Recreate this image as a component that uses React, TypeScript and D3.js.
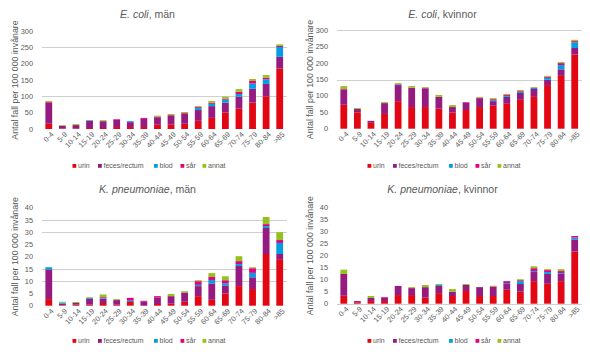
import React from "react";
import * as d3 from "d3";

const categories = ["0-4","5-9","10-14","15-19","20-24","25-29","30-34","35-39","40-44","45-49","50-54","55-59","60-64","65-69","70-74","75-79","80-84",">85"];
const seriesNames = ["urin","feces/rectum","blod","sår","annat"];
const seriesColors = ["#E30613","#951B81","#009FE3","#E6007E","#95C11F"];

// E. coli, män
const ecoliManUrin = [16,1,1,3,3,6,6,6,13,13,16,25,34,50,62,81,100,185];
const ecoliManFeces = [65,9,11,22,21,22,15,25,23,28,31,33,36,31,37,42,38,36];
const ecoliManBlod = [0,0,0,2,0,0,3,0,0,0,0,6,7,9,8,16,14,30];
const ecoliManSar = [2,0,0,0,0,2,0,3,2,2,2,3,3,3,7,8,5,3];
const ecoliManAnnat = [3,2,3,0.5,3,0,0,0,3,3,3,3,6,6,8,6,8,5];

// E. coli, kvinnor
const ecoliKvUrin = [73,50,18,45,84,66,66,61,49,57,66,70,76,88,97,133,161,226];
const ecoliKvFeces = [46,10,6,33,49,58,57,36,17,22,27,14,21,21,24,16,20,20];
const ecoliKvBlod = [0,0,0,0,2,0,0,0,0,0,0,3,3,4,3,6,13,17];
const ecoliKvSar = [2,0,0,0,1,1,2,0,0,2,2,3,3,2,1,3,6,4];
const ecoliKvAnnat = [9,3,0,3,3,5,2,6,6,0,2,3,3,3,2,3,3,4];

// K. pneumoniae, män
const kpnManUrin = [2.7,0.2,0.4,0.4,1.1,0.4,1.6,0,0.7,0.8,1.6,3.9,2.4,5.0,8.0,6.8,21.1,19.0];
const kpnManFeces = [12.1,0.6,0.7,2.4,1.8,1.9,0.3,1.8,2.6,3.1,3.8,4.1,6.7,3.3,8.2,4.8,10.6,2.1];
const kpnManBlod = [0.9,0.5,0,0.4,0.3,0,0.4,0,0,0,0,0.5,1.4,0.9,0.8,1.8,0.8,4.5];
const kpnManSar = [0,0,0,0,0.3,0,0.9,0.2,0.6,0,0,1.5,1.2,1.2,1.2,1.9,0.8,1.2];
const kpnManAnnat = [0,0.3,0.4,0.3,1.1,0.4,0,0,0,0.9,0.5,0.4,1.6,1.6,2.0,0.4,2.9,3.2];

// K. pneumoniae, kvinnor
const kpnKvUrin = [3.3,0.6,1.1,1.1,3.6,3.6,2.5,4.4,3.2,5.3,3.2,3.2,5.8,5.0,9.4,8.3,9.4,21.7];
const kpnKvFeces = [9.1,0.5,1.3,1.4,3.8,2.9,4.4,3.0,1.8,2.5,3.7,3.8,2.4,3.2,3.8,4.1,3.0,5.1];
const kpnKvBlod = [0,0,0,0,0,0,0,0.4,0,0,0,0,0.4,1.2,0.4,0.8,0.4,0.8];
const kpnKvSar = [0,0,0,0.3,0,0,0,0,0,0,0,0.2,0.8,0.4,1.2,0.8,0.8,0.6];
const kpnKvAnnat = [1.8,0,0.8,0,0,0.4,0.9,0.4,1.1,0.4,0,0.3,0,0.4,0.8,0.4,0.8,0];

const ecoliTicks = [0,50,100,150,200,250,300];
const kpnTicks = [0,5,10,15,20,25,30,35,40];

const yTitle = "Antal fall per 100 000 invånare";
const FONT = "'Liberation Sans', Arial, sans-serif";
const TEXT = "#595959";

type PanelProps = {
  ox: number; oy: number;
  species: string; sex: string;
  series: number[][];
  ticks: number[];
  grid: number[];
  yBottom: number; yTop: number;
  baseline?: boolean;
};

function Panel({ ox, oy, species, sex, series, ticks, grid, yBottom, yTop, baseline }: PanelProps) {
  const rows = categories.map((c, i) => {
    const r: any = { cat: c };
    seriesNames.forEach((s, k) => { r[s] = series[k][i]; });
    return r;
  });
  const stacked = d3.stack<any>().keys(seriesNames)(rows);
  const x = d3.scaleBand<string>().domain(categories).range([42, 286.5]).paddingInner(0.5).paddingOuter(0.25);
  const y = d3.scaleLinear().domain([0, ticks[ticks.length - 1]]).range([yBottom, yTop]);
  const legendX = [72.5, 98, 154, 180.5, 202.5];
  return (
    <g transform={`translate(${ox},${oy})`} fontFamily={FONT}>
      <text x={147.5} y={18} textAnchor="middle" fontSize={10.5} fill={TEXT}>
        <tspan fontStyle="italic">{species}</tspan>{`, ${sex}`}
      </text>
      {grid.map((g) => (
        <line key={g} x1={42} x2={287} y1={Math.round(y(g)) + 0.5} y2={Math.round(y(g)) + 0.5} stroke="#cfcfcf" strokeWidth={1} />
      ))}
      {baseline && (
        <line x1={42} x2={287} y1={Math.round(y(0)) + 0.5} y2={Math.round(y(0)) + 0.5} stroke="#cfcfcf" strokeWidth={1} />
      )}
      {ticks.map((t) => (
        <text key={t} x={33} y={y(t)} dy="0.35em" textAnchor="end" fontSize={7.4} fill={TEXT}>{t}</text>
      ))}
      <text transform={`translate(15,${(yBottom + yTop) / 2}) rotate(-90)`} textAnchor="middle" fontSize={8.8} fill={TEXT} dy="0.35em">{yTitle}</text>
      {stacked.map((s, k) => (
        <g key={s.key} fill={seriesColors[k]}>
          {s.map((d, i) => {
            const h = y(d[0]) - y(d[1]);
            if (h <= 0) return null;
            return <rect key={i} x={x(categories[i])!} width={x.bandwidth()} y={y(d[1])} height={h} />;
          })}
        </g>
      ))}
      {categories.map((c) => (
        <text key={c} transform={`translate(${x(c)! + x.bandwidth() / 2 + 3.5},${yBottom + 4}) rotate(-45)`} textAnchor="end" dy="0.35em" fontSize={7.4} fill={TEXT}>{c}</text>
      ))}
      {seriesNames.map((s, k) => (
        <g key={s}>
          <rect x={legendX[k]} y={164} width={3.8} height={3.8} fill={seriesColors[k]} />
          <text x={legendX[k] + 5.5} y={166} dy="0.35em" fontSize={7} fill={TEXT}>{s}</text>
        </g>
      ))}
    </g>
  );
}

export default function App() {
  return (
    <svg width={590} height={355} style={{ position: "absolute", left: 0, top: 0, background: "#fff" }}>
      <rect width={590} height={355} fill="#fff" />
      <Panel ox={0} oy={0} species="E. coli" sex="män"
        series={[ecoliManUrin, ecoliManFeces, ecoliManBlod, ecoliManSar, ecoliManAnnat]}
        ticks={ecoliTicks} grid={[100, 250]} yBottom={129} yTop={31} />
      <Panel ox={295} oy={0} species="E. coli" sex="kvinnor"
        series={[ecoliKvUrin, ecoliKvFeces, ecoliKvBlod, ecoliKvSar, ecoliKvAnnat]}
        ticks={ecoliTicks} grid={[150, 300]} yBottom={128.7} yTop={30.3} />
      <Panel ox={0} oy={175} species="K. pneumoniae" sex="män"
        series={[kpnManUrin, kpnManFeces, kpnManBlod, kpnManSar, kpnManAnnat]}
        ticks={kpnTicks} grid={[10, 15, 30, 35]} yBottom={130.7} yTop={32.7} />
      <Panel ox={295} oy={175} species="K. pneumoniae" sex="kvinnor"
        series={[kpnKvUrin, kpnKvFeces, kpnKvBlod, kpnKvSar, kpnKvAnnat]}
        ticks={kpnTicks} grid={[]} yBottom={128.7} yTop={32.7} baseline />
    </svg>
  );
}
